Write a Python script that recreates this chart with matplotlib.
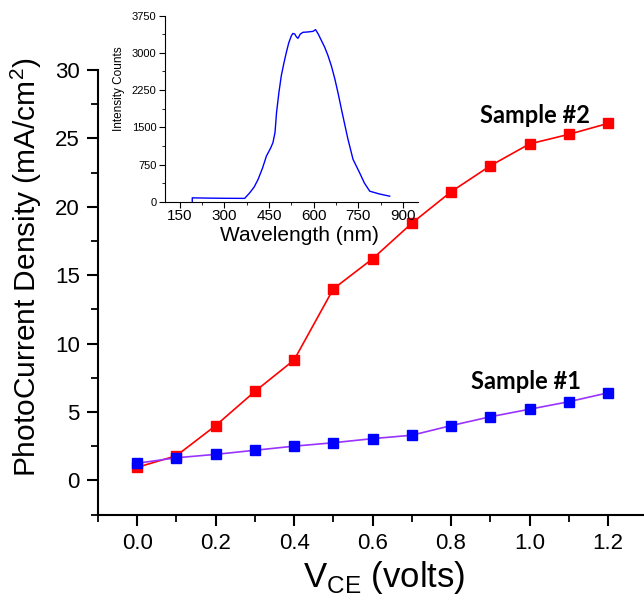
import matplotlib
matplotlib.use("Agg")
import matplotlib.pyplot as plt
from matplotlib.ticker import MultipleLocator

plt.rcParams['font.family'] = ['Liberation Sans', 'DejaVu Sans']

# photocurrent data
vce = [0.0, 0.1, 0.2, 0.3, 0.4, 0.5, 0.6, 0.7, 0.8, 0.9, 1.0, 1.1, 1.2]
sample2 = [0.95, 1.8, 4.0, 6.5, 8.8, 14.0, 16.2, 18.8, 21.1, 23.0, 24.6, 25.3, 26.1]
sample1 = [1.25, 1.65, 1.9, 2.2, 2.5, 2.75, 3.05, 3.3, 4.0, 4.65, 5.2, 5.75, 6.4]

# lamp spectrum (inset)
wavelength = [192, 192, 250, 300, 368, 385, 400, 413, 428, 441, 455, 463, 470,
              475, 483, 491, 500, 508, 516, 525, 530, 536, 542, 547, 555, 564,
              580, 598, 606, 615, 626, 637, 648, 660, 671, 682, 693, 704, 715,
              732, 754, 770, 788, 820, 855]
counts = [0, 81, 75, 72, 70, 182, 300, 451, 680, 922, 1080, 1192, 1400,
          1797, 2200, 2538, 2800, 3009, 3200, 3346, 3390, 3380, 3320, 3292, 3380, 3413,
          3420, 3433, 3467, 3380, 3245, 3110, 2942, 2720, 2471, 2180, 1865, 1560, 1259,
          855, 586, 380, 215, 160, 114]

fig = plt.figure(figsize=(6.44, 5.99), dpi=100)
ax = fig.add_axes([0.152, 0.141, 0.853, 0.742])

ax.plot(vce, sample2, color='red', lw=1.2, marker='s', ms=7.5,
        mfc='red', mec='red')
ax.plot(vce, sample1, color='#9933ff', lw=1.2, marker='s', ms=7.5,
        mfc='blue', mec='blue')

ax.set_xlim(-0.1, 1.3)
ax.set_ylim(-2.5, 30)
ax.spines['top'].set_visible(False)
ax.spines['right'].set_visible(False)
for s in ('left', 'bottom'):
    ax.spines[s].set_linewidth(1.5)
ax.xaxis.set_minor_locator(MultipleLocator(0.1))
ax.yaxis.set_minor_locator(MultipleLocator(2.5))
ax.set_xticks([0.0, 0.2, 0.4, 0.6, 0.8, 1.0, 1.2])
ax.set_yticks([0, 5, 10, 15, 20, 25, 30])
ax.tick_params(which='major', length=8, width=1.5, labelsize=16, pad=5)
ax.tick_params(which='minor', length=5, width=1.3)
ax.set_xlabel(r'V$_\mathregular{CE}$ (volts)', fontsize=25)
ax.set_ylabel(r'PhotoCurrent Density (mA/cm$^\mathregular{2}$)', fontsize=21.5)
ax.xaxis.set_label_coords(0.522, -0.100)
ax.yaxis.set_label_coords(-0.098, 0.557)

ax.text(1.013, 26.7, 'Sample #2', family='Lato', fontweight='bold',
        fontsize=17, ha='center', va='center')
ax.text(0.99, 7.2, 'Sample #1', family='Lato', fontweight='bold',
        fontsize=17, ha='center', va='center')

ins = fig.add_axes([0.256, 0.663, 0.393, 0.311])
ins.plot(wavelength, counts, color='blue', lw=1.0)
ins.set_xlim(100, 950)
ins.set_ylim(0, 3750)
ins.spines['top'].set_visible(False)
ins.spines['right'].set_visible(False)
ins.set_xticks([150, 300, 450, 600, 750, 900])
ins.set_yticks([0, 750, 1500, 2250, 3000, 3750])
ins.xaxis.set_minor_locator(MultipleLocator(75))
ins.yaxis.set_minor_locator(MultipleLocator(375))
ins.tick_params(which='major', length=4, labelsize=8, pad=2)
ins.tick_params(which='minor', length=2)
ins.tick_params(axis='x', labelsize=11, pad=1)
ins.set_xlabel('Wavelength (nm)', fontsize=15)
ins.set_ylabel('Intensity Counts', fontsize=8.5)
ins.xaxis.set_label_coords(0.53, -0.13)
ins.yaxis.set_label_coords(-0.158, 0.61)

fig.savefig('out.png', dpi=100)
